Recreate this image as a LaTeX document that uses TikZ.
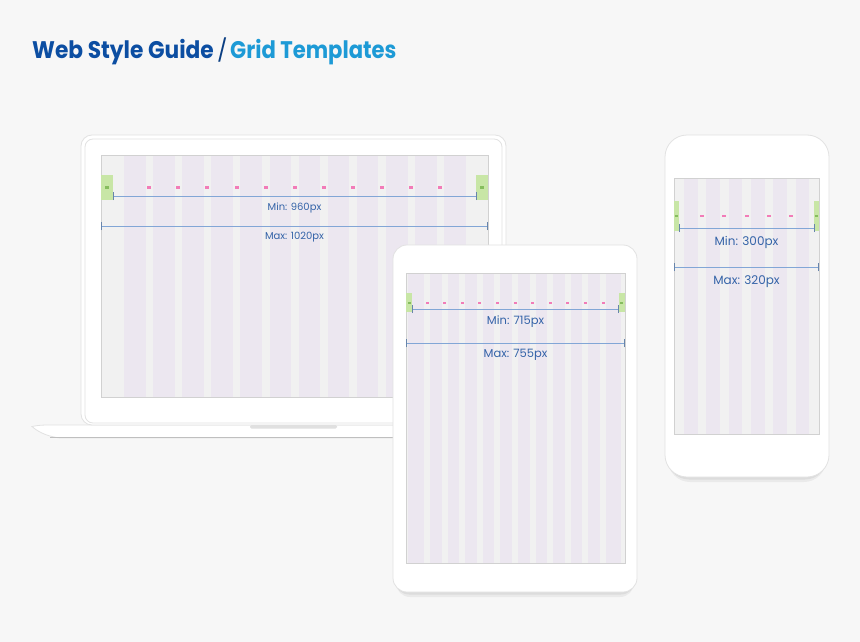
\documentclass[tikz,border=0pt]{standalone}
\usepackage{fontspec}
\usepackage{graphicx}
\setmainfont{Poppins}
\definecolor{bg}{HTML}{F7F7F7}
\definecolor{scr}{HTML}{F1F1F1}
\definecolor{lav}{HTML}{ECE7F0}
\definecolor{dimline}{HTML}{82A6D6}
\definecolor{dimtxt}{HTML}{3463A8}
\definecolor{pinkm}{HTML}{F27CB8}
\definecolor{greenb}{HTML}{C8E6A6}
\definecolor{greenm}{HTML}{86BD5E}
\definecolor{darkblue}{HTML}{0C4EA2}
\definecolor{lightblue}{HTML}{1D9AD6}
\definecolor{bez}{HTML}{E2E2E2}
\tikzset{
  devbody/.style={fill=white,draw=bez,line width=0.8pt},
  screenbox/.style={fill=scr,draw=black!18,line width=0.5pt},
  colbox/.style={fill=lav},
  gutbox/.style={fill=scr},
  gmargin/.style={fill=greenb},
  gmark/.style={fill=greenm},
  pmark/.style={fill=pinkm},
  dim/.style={draw=dimline,line width=0.7pt},
  dimtick/.style={draw=dimline!80!black,line width=0.7pt},
  dimlabel/.style={text=dimtxt,inner sep=0pt},
}
\begin{document}
\begin{tikzpicture}[x=1pt,y=-1pt]
\useasboundingbox (0,0) rectangle (860,642);
\fill[bg] (0,0) rectangle (860,642);

% ---------- Title ----------
\node[anchor=base west,inner sep=0pt,text=darkblue] (t1) at (32,59)
  {\scalebox{0.905}[1]{\fontsize{24}{24}\selectfont\bfseries Web Style Guide}};
\node[anchor=base west,inner sep=0pt,text=darkblue!80!black] (t2) at (217,59)
  {\fontsize{22}{22}\selectfont /};
\node[anchor=base west,inner sep=0pt,text=lightblue] (t3) at (230,59)
  {\scalebox{0.88}[1]{\fontsize{24}{24}\selectfont\bfseries Grid Templates}};

% ---------- Laptop ----------
\fill[devbody,draw=bez] (32,426.5) .. controls (40,425) .. (60,425) -- (560,425) -- (560,438) -- (60,438) .. controls (44,436) and (36,430) .. (32,426.5) -- cycle;
\draw[black!25,line width=1pt] (50,437.6) -- (560,437.6);
\fill[devbody] (81,135) [rounded corners=11pt] rectangle (506,425);
\draw[bez,line width=0.8pt,rounded corners=8pt] (85,139) rectangle (502,423);
\fill[black!12,rounded corners=1.5pt] (250,425) rectangle (337,428.5);
\draw[screenbox] (101,155) rectangle (488,397);
\foreach \i in {0,...,11}{
  \fill[colbox] ({124+29.1*\i},155.5) rectangle ({145.6+29.1*\i},396.5);
}
\fill[gmargin] (101.3,175) rectangle (113,200);
\fill[gmargin] (476,175) rectangle (487.7,200);
\fill[gmark] (105,186) rectangle (109,188.5);
\fill[gmark] (480,186) rectangle (484,188.5);
\foreach \i in {0,...,10}{
  \fill[pmark] ({147.2+29.1*\i},185.8) rectangle ({151.2+29.1*\i},188.6);
}
\coordinate (lminA) at (113,196);
\coordinate (lminB) at (476,196);
\coordinate (lmaxA) at (101.5,226);
\coordinate (lmaxB) at (487.5,226);
\draw[dim] (lminA) -- (lminB);
\draw[dimtick] ([yshift=-4pt]lminA) -- ([yshift=4pt]lminA);
\draw[dimtick] ([yshift=-4pt]lminB) -- ([yshift=4pt]lminB);
\draw[dim] (lmaxA) -- (lmaxB);
\draw[dimtick] ([yshift=-4pt]lmaxA) -- ([yshift=4pt]lmaxA);
\draw[dimtick] ([yshift=-4pt]lmaxB) -- ([yshift=4pt]lmaxB);
\node[dimlabel,font=\fontsize{10}{10}\selectfont] (lmin) at (294.5,208) {Min: 960px};
\node[dimlabel,font=\fontsize{10}{10}\selectfont] (lmax) at (294.5,237.5) {Max: 1020px};

% ---------- Tablet ----------
\fill[black,opacity=0.05,rounded corners=14pt] (396,250) rectangle (634,597);
\fill[black,opacity=0.06,rounded corners=14pt] (395,248) rectangle (635,594.5);
\fill[devbody] (393,245) [rounded corners=14pt] rectangle (637,592);
\draw[screenbox] (406,273) rectangle (625,563);
\fill[colbox] (407.6,273.5) rectangle (620.5,562.5);
\foreach \k in {0,...,10}{
  \fill[gutbox] ({424+17.6*\k},273.5) rectangle ({430+17.6*\k},562.5);
}
\fill[gmargin] (406.3,293) rectangle (412,312);
\fill[gmargin] (618.5,293) rectangle (624.7,312);
\fill[gmark] (407.5,302) rectangle (410.5,304);
\fill[gmark] (620,302) rectangle (623,304);
\foreach \k in {0,...,10}{
  \fill[pmark] ({425.5+17.6*\k},301.5) rectangle ({428.5+17.6*\k},304);
}
\coordinate (tminA) at (412,309);
\coordinate (tminB) at (618.5,309);
\coordinate (tmaxA) at (406.3,343);
\coordinate (tmaxB) at (624.7,343);
\draw[dim] (tminA) -- (tminB);
\draw[dimtick] ([yshift=-4pt]tminA) -- ([yshift=4pt]tminA);
\draw[dimtick] ([yshift=-4pt]tminB) -- ([yshift=4pt]tminB);
\draw[dim] (tmaxA) -- (tmaxB);
\draw[dimtick] ([yshift=-4pt]tmaxA) -- ([yshift=4pt]tmaxA);
\draw[dimtick] ([yshift=-4pt]tmaxB) -- ([yshift=4pt]tmaxB);
\node[dimlabel,font=\fontsize{11.5}{11.5}\selectfont] (tmin) at (515.5,322) {Min: 715px};
\node[dimlabel,font=\fontsize{11.5}{11.5}\selectfont] (tmax) at (515.5,355) {Max: 755px};

% ---------- Phone ----------
\fill[black,opacity=0.05,rounded corners=22pt] (668,140) rectangle (826,482);
\fill[black,opacity=0.06,rounded corners=22pt] (667,138) rectangle (827,479.5);
\fill[devbody] (665,135) [rounded corners=22pt] rectangle (829,477);
\draw[screenbox] (674,178) rectangle (819,434);
\foreach \i in {0,...,5}{
  \fill[colbox] ({684+22.3*\i},178.5) rectangle ({697.7+22.3*\i},433.5);
}
\fill[gmargin] (674.3,201) rectangle (679,231);
\fill[gmargin] (814,201) rectangle (818.7,231);
\fill[gmark] (675,215) rectangle (678,217);
\fill[gmark] (815,215) rectangle (818,217);
\foreach \i in {0,...,4}{
  \fill[pmark] ({700+22.3*\i},214.8) rectangle ({704+22.3*\i},217.3);
}
\coordinate (pminA) at (679,228);
\coordinate (pminB) at (814,228);
\coordinate (pmaxA) at (674.3,267);
\coordinate (pmaxB) at (818.7,267);
\draw[dim] (pminA) -- (pminB);
\draw[dimtick] ([yshift=-4pt]pminA) -- ([yshift=4pt]pminA);
\draw[dimtick] ([yshift=-4pt]pminB) -- ([yshift=4pt]pminB);
\draw[dim] (pmaxA) -- (pmaxB);
\draw[dimtick] ([yshift=-4pt]pmaxA) -- ([yshift=4pt]pmaxA);
\draw[dimtick] ([yshift=-4pt]pmaxB) -- ([yshift=4pt]pmaxB);
\node[dimlabel,font=\fontsize{12}{12}\selectfont] (pmin) at (746.5,242) {Min: 300px};
\node[dimlabel,font=\fontsize{12}{12}\selectfont] (pmax) at (746.5,282) {Max: 320px};
\end{tikzpicture}
\end{document}
